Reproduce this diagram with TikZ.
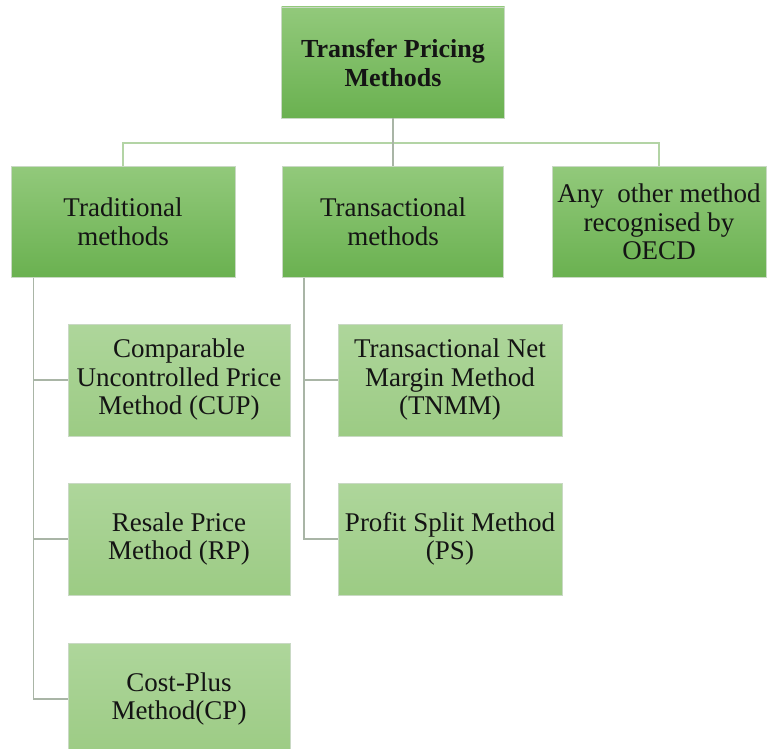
\documentclass[tikz,border=0pt]{standalone}
\usepackage{fontspec}
\setmainfont{Liberation Serif}
\definecolor{gtop}{HTML}{92C97B}
\definecolor{gbot}{HTML}{6AB150}
\definecolor{ltop}{HTML}{AED69B}
\definecolor{lbot}{HTML}{9CCB84}
\definecolor{bord}{HTML}{C9D9C4}
\definecolor{hline}{HTML}{B3D4A5}
\definecolor{vline}{HTML}{A9B5A6}
\begin{document}
\begin{tikzpicture}[x=1pt,y=-1pt,
  box/.style={rectangle, draw=bord, line width=0.8pt, align=center, inner sep=0pt,
    font=\fontsize{27}{28.5}\selectfont, text=black!92},
  darkbox/.style={box, top color=gtop, bottom color=gbot, minimum height=111pt},
  lightbox/.style={box, top color=ltop, bottom color=lbot, minimum width=222pt, minimum height=112pt},
  hconn/.style={draw=hline, line width=1.6pt},
  vconn/.style={draw=vline, line width=1.6pt}]
\useasboundingbox (0,0) rectangle (769,749);
\coordinate (bus) at (393,143);
\begin{scope}
\clip (0,0) rectangle (769,749);
\node[darkbox, minimum width=223pt, font=\fontsize{26}{29}\selectfont\bfseries] (top) at (393,62.5) {Transfer Pricing\\Methods};
\node[darkbox, minimum width=224pt] (trad) at (123,222) {Traditional\\methods};
\node[darkbox, minimum width=221pt] (trans) at (393,222) {Transactional\\methods};
\node[darkbox, minimum width=214pt] (other) at (659,222) {Any~ other method\\recognised by\\OECD};
\node[lightbox] (cup) at (179,380) {Comparable\\Uncontrolled Price\\Method (CUP)};
\node[lightbox] (rp) at (179,539) {Resale Price\\Method (RP)};
\node[lightbox] (cp) at (179,699) {Cost-Plus\\Method(CP)};
\node[lightbox, minimum width=224pt] (tnmm) at (450,380) {Transactional Net\\Margin Method\\(TNMM)};
\node[lightbox, minimum width=224pt] (ps) at (450,539) {Profit Split Method\\(PS)};
\end{scope}
% connectors
\path[hconn] (trad.north) |- (bus) -| (other.north);
\path[vconn] (top.south) -- (trans.north);
\path[vconn] ([xshift=23pt]trad.south west) |- (cup.west);
\path[vconn] ([xshift=23pt]trad.south west) |- (rp.west);
\path[vconn] ([xshift=23pt]trad.south west) |- (cp.west);
\path[vconn] ([xshift=22pt]trans.south west) |- (tnmm.west);
\path[vconn] ([xshift=22pt]trans.south west) |- (ps.west);
\end{tikzpicture}
\end{document}
